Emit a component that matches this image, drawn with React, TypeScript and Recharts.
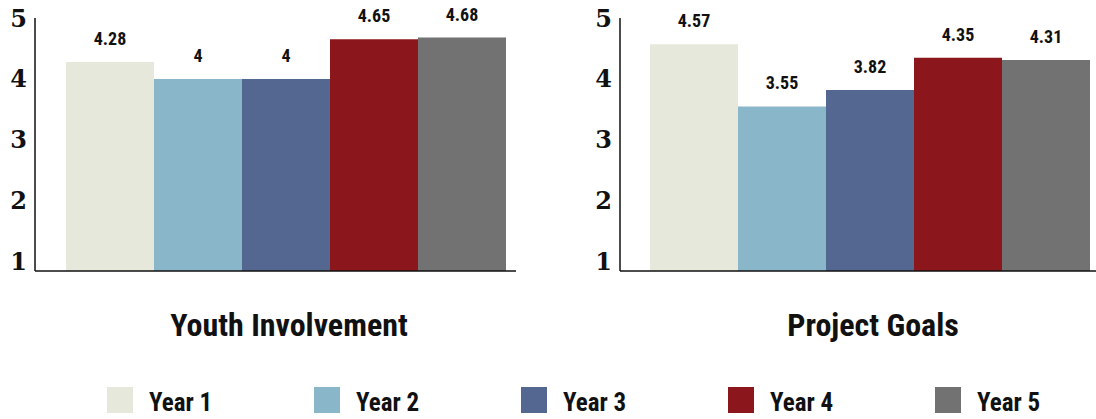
import { BarChart, Bar, XAxis, YAxis, LabelList } from "recharts";

const years = ["Year 1", "Year 2", "Year 3", "Year 4", "Year 5"];
const colors = ["#e7e8dc", "#8ab6ca", "#536791", "#8b161b", "#727272"];
const panelTitles = ["Youth Involvement", "Project Goals"];
const youthScores = [4.28, 4, 4, 4.65, 4.68];
const goalScores = [4.57, 3.55, 3.82, 4.35, 4.31];
const yTicks = [1, 2, 3, 4, 5];

const narrow = "'Liberation Sans Narrow', 'Roboto Condensed', Roboto, sans-serif";
const tickFont = "'DejaVu Serif', serif";

function toRow(title: string, scores: number[]) {
  const row: Record<string, string | number> = { name: title };
  years.forEach((y, i) => {
    row[y] = scores[i];
  });
  return [row];
}

interface PanelProps {
  title: string;
  scores: number[];
  left: number;
  width: number;
  padLeft: number;
  padRight: number;
  marginRight: number;
}

function Panel({ title, scores, left, width, padLeft, padRight, marginRight }: PanelProps) {
  const data = toRow(title, scores);
  return (
    <div style={{ position: "absolute", left, top: 0 }}>
      <BarChart
        width={width}
        height={346}
        data={data}
        margin={{ top: 18, right: marginRight, bottom: 0, left: 0 }}
        barGap={0}
        barCategoryGap={0}
      >
        <XAxis
          dataKey="name"
          height={75}
          padding={{ left: padLeft, right: padRight }}
          axisLine={{ stroke: "#111", strokeWidth: 1.5 }}
          tickLine={false}
          tickMargin={36}
          tick={{ fill: "#111", fontSize: 32, fontWeight: 700, fontFamily: narrow, dx: 3 }}
        />
        <YAxis
          width={35}
          domain={[0.85, 5]}
          ticks={yTicks}
          allowDataOverflow
          axisLine={{ stroke: "#111", strokeWidth: 1.5 }}
          tickLine={false}
          tick={{ fill: "#111", fontSize: 24, fontWeight: 700, fontFamily: tickFont }}
        />
        {years.map((y, i) => (
          <Bar key={y} dataKey={y} fill={colors[i]} isAnimationActive={false}>
            <LabelList
              dataKey={y}
              position="top"
              offset={17}
              fill="#111"
              fontSize={18}
              fontWeight={700}
              fontFamily={narrow}
            />
          </Bar>
        ))}
      </BarChart>
    </div>
  );
}

export default function App() {
  return (
    <div
      style={{
        position: "absolute",
        left: 0,
        top: 0,
        width: 1096,
        height: 419,
        overflow: "hidden",
        background: "#fff",
      }}
    >
      <Panel
        title={panelTitles[0]}
        scores={youthScores}
        left={0}
        width={530}
        padLeft={31}
        padRight={10}
        marginRight={14}
      />
      <Panel
        title={panelTitles[1]}
        scores={goalScores}
        left={585}
        width={511}
        padLeft={30}
        padRight={6}
        marginRight={0}
      />
      <div style={{ position: "absolute", left: 107, top: 387, display: "flex" }}>
        {years.map((y, i) => (
          <div key={y} style={{ width: 207, display: "flex", alignItems: "center" }}>
            <div style={{ width: 26, height: 26, background: colors[i] }} />
            <span
              style={{
                marginLeft: 16,
                fontFamily: narrow,
                fontWeight: 700,
                fontSize: 25,
                color: "#111",
                lineHeight: "26px",
                position: "relative",
                top: 3,
              }}
            >
              {y}
            </span>
          </div>
        ))}
      </div>
    </div>
  );
}
